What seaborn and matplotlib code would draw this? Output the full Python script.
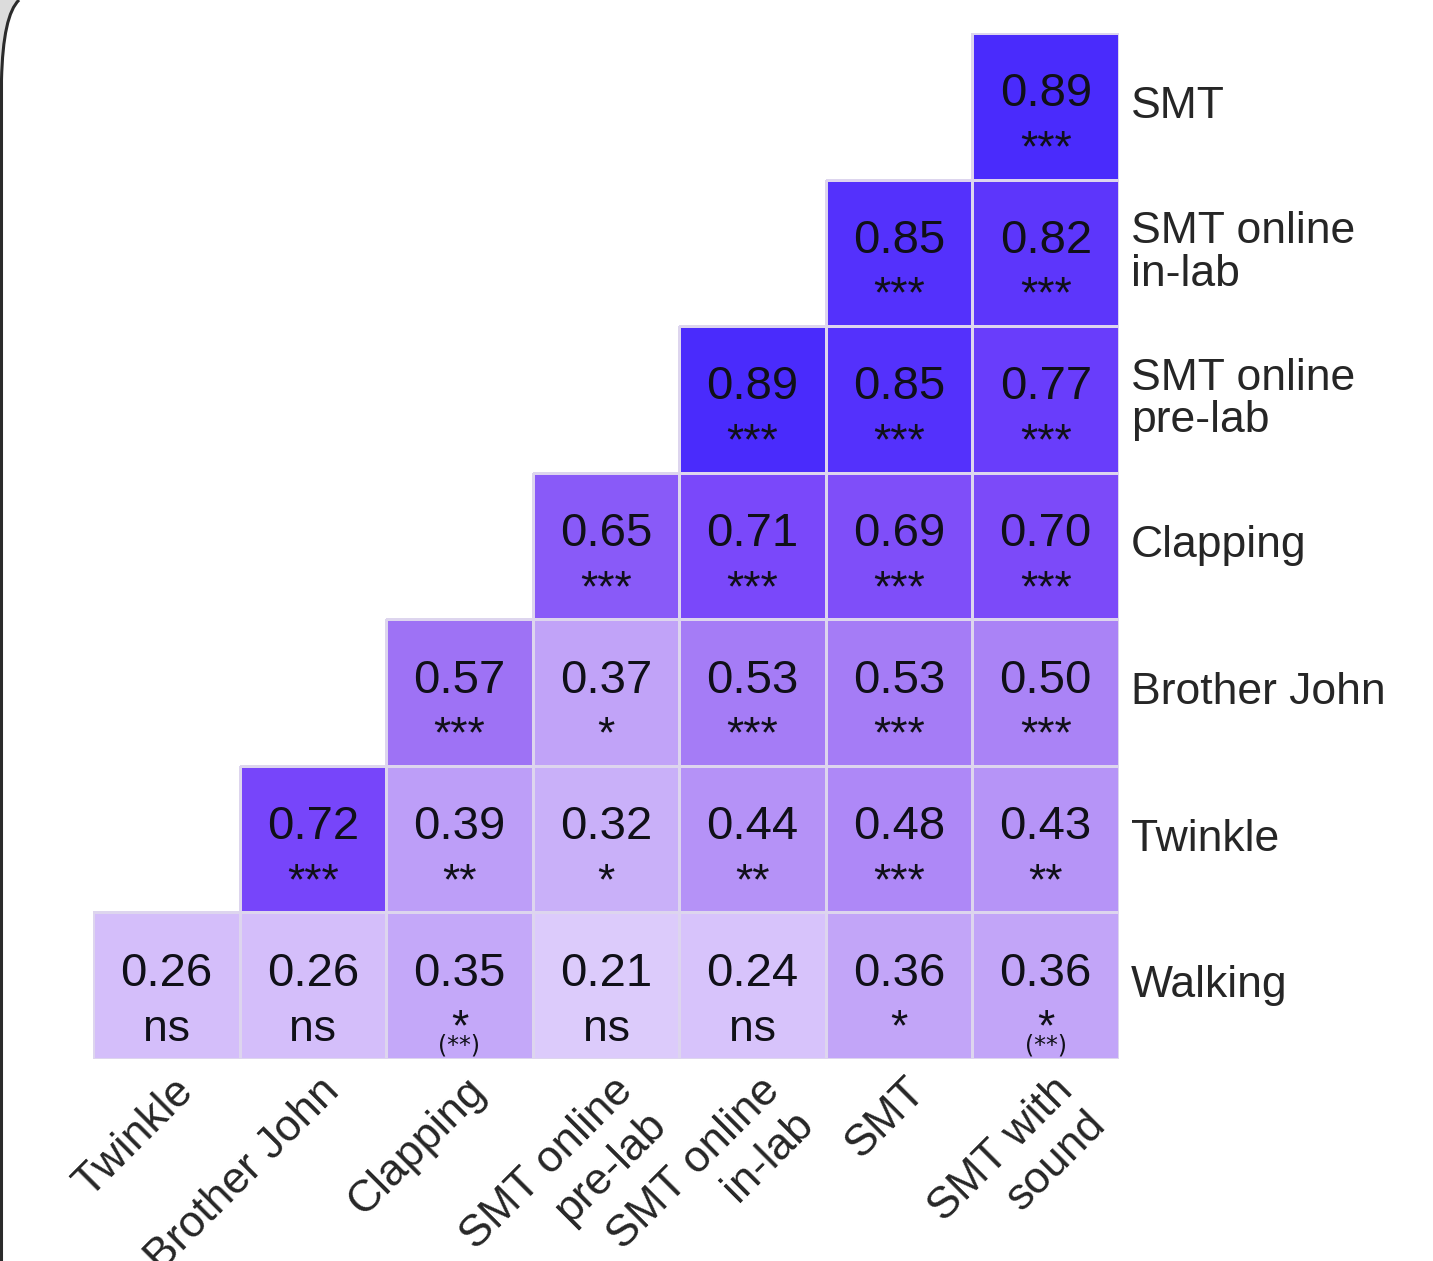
import numpy as np
import pandas as pd
import matplotlib
matplotlib.use("Agg")
import matplotlib.pyplot as plt
import matplotlib.transforms as mtransforms
from matplotlib.colors import LinearSegmentedColormap, to_rgba
from matplotlib.path import Path
from matplotlib.patches import PathPatch
import seaborn as sns

# Tasks: rows top-to-bottom, columns left-to-right
row_labels = ["SMT", "SMT online\nin-lab", "SMT online\npre-lab", "Clapping",
              "Brother John", "Twinkle", "Walking"]
col_labels = ["Twinkle", "Brother John", "Clapping", "SMT online\npre-lab",
              "SMT online\nin-lab", "SMT", "SMT with\nsound"]

# Correlation coefficients (lower triangle, right-aligned per row)
r_smt = [0.89]
r_inlab = [0.85, 0.82]
r_prelab = [0.89, 0.85, 0.77]
r_clapping = [0.65, 0.71, 0.69, 0.70]
r_brother = [0.57, 0.37, 0.53, 0.53, 0.50]
r_twinkle = [0.72, 0.39, 0.32, 0.44, 0.48, 0.43]
r_walking = [0.26, 0.26, 0.35, 0.21, 0.24, 0.36, 0.36]

# Significance codes
s_smt = ["***"]
s_inlab = ["***", "***"]
s_prelab = ["***", "***", "***"]
s_clapping = ["***", "***", "***", "***"]
s_brother = ["***", "*", "***", "***", "***"]
s_twinkle = ["***", "**", "*", "**", "***", "**"]
s_walking = ["ns", "ns", "*", "ns", "ns", "*", "*"]

# Secondary significance shown in parentheses (row, column)
extra_notes = {("Walking", "Clapping"): "(**)",
               ("Walking", "SMT with\nsound"): "(**)"}

rows_r = [r_smt, r_inlab, r_prelab, r_clapping, r_brother, r_twinkle, r_walking]
rows_s = [s_smt, s_inlab, s_prelab, s_clapping, s_brother, s_twinkle, s_walking]

n = len(col_labels)
vals = np.full((len(row_labels), n), np.nan)
sigs = np.full((len(row_labels), n), "", dtype=object)
for i, (rv, sv) in enumerate(zip(rows_r, rows_s)):
    vals[i, n - len(rv):] = rv
    sigs[i, n - len(sv):] = sv

df = pd.DataFrame(vals, index=row_labels, columns=col_labels)

sns.set_style("white")
plt.rcParams["font.family"] = ["Liberation Sans", "DejaVu Sans"]

W, H = 1433, 1261
fig = plt.figure(figsize=(W / 100, H / 100), dpi=100)
fig.patch.set_facecolor("white")
ax = fig.add_axes([93 / W, 1 - 1059 / H, 1026 / W, 1026 / H])

cmap = LinearSegmentedColormap.from_list(
    "lav", [(0.0, "#ffffff"), (0.21, "#dccafb"), (0.57, "#9e72f5"),
            (0.72, "#7745fa"), (0.89, "#4a2bfc"), (1.0, "#3a1cff")])
grid_color = "#ddd5ee"
sns.heatmap(df, mask=df.isna(), cmap=cmap, vmin=0, vmax=1, cbar=False,
            linewidths=1.0, linecolor=grid_color, ax=ax)

# Only outline the filled cells
mesh = ax.collections[0]
filled = ~np.isnan(vals).ravel()
edge_cols = [to_rgba(grid_color) if f else (0, 0, 0, 0) for f in filled]
mesh.set_edgecolor(edge_cols)

txt_color = "#101018"
for i in range(df.shape[0]):
    for j in range(df.shape[1]):
        v = df.iat[i, j]
        if np.isnan(v):
            continue
        ax.text(j + 0.5, i + 0.5, f"{v:.2f}", ha="center", va="baseline",
                fontsize=34, color=txt_color)
        ax.text(j + 0.5, i + 0.875, sigs[i, j], ha="center", va="baseline",
                fontsize=32, color=txt_color)
        note = extra_notes.get((row_labels[i], col_labels[j]))
        if note:
            ax.text(j + 0.5, i + 0.958, note, ha="center", va="baseline",
                    fontsize=17, color=txt_color, family="DejaVu Sans")

# Row labels on the right
ax.yaxis.tick_right()
ax.set_yticks(np.arange(len(row_labels)) + 0.5)
ax.set_yticklabels(row_labels, rotation=0, fontsize=32, va="center",
                   linespacing=1.05)
ax.tick_params(axis="y", length=0, pad=8.5)

# Column labels, rotated underneath
ax.set_xticks(np.arange(n) + 0.5)
ax.set_xticklabels(col_labels, fontsize=32)
ax.tick_params(axis="x", length=0, pad=8)
shift = mtransforms.ScaledTranslation(6 / 100, 0, fig.dpi_scale_trans)
for lab in ax.get_xticklabels():
    lab.set_rotation(45)
    lab.set_rotation_mode("anchor")
    lab.set_ha("right")
    lab.set_va("top")
    lab.set_multialignment("right")
    lab.set_linespacing(1.2)
    lab.set_transform(lab.get_transform() + shift)

ax.set_xlabel("")
ax.set_ylabel("")

# Rounded page frame along the left edge
corner = Path([(0, H), (19, H), (3, H - 15), (2, H - 80), (0, H - 80), (0, H)],
              [Path.MOVETO, Path.LINETO, Path.CURVE3, Path.CURVE3,
               Path.LINETO, Path.CLOSEPOLY])
fig.add_artist(PathPatch(corner, transform=None, facecolor="#dcdcdc",
                         edgecolor="none", zorder=5))
edge = Path([(1.5, 0), (1.5, H - 80), (3, H - 15), (19, H)],
            [Path.MOVETO, Path.LINETO, Path.CURVE3, Path.CURVE3])
fig.add_artist(PathPatch(edge, transform=None, facecolor="none",
                         edgecolor="#2b2b2b", linewidth=2.2, zorder=6))

fig.savefig("out.png", dpi=100)
